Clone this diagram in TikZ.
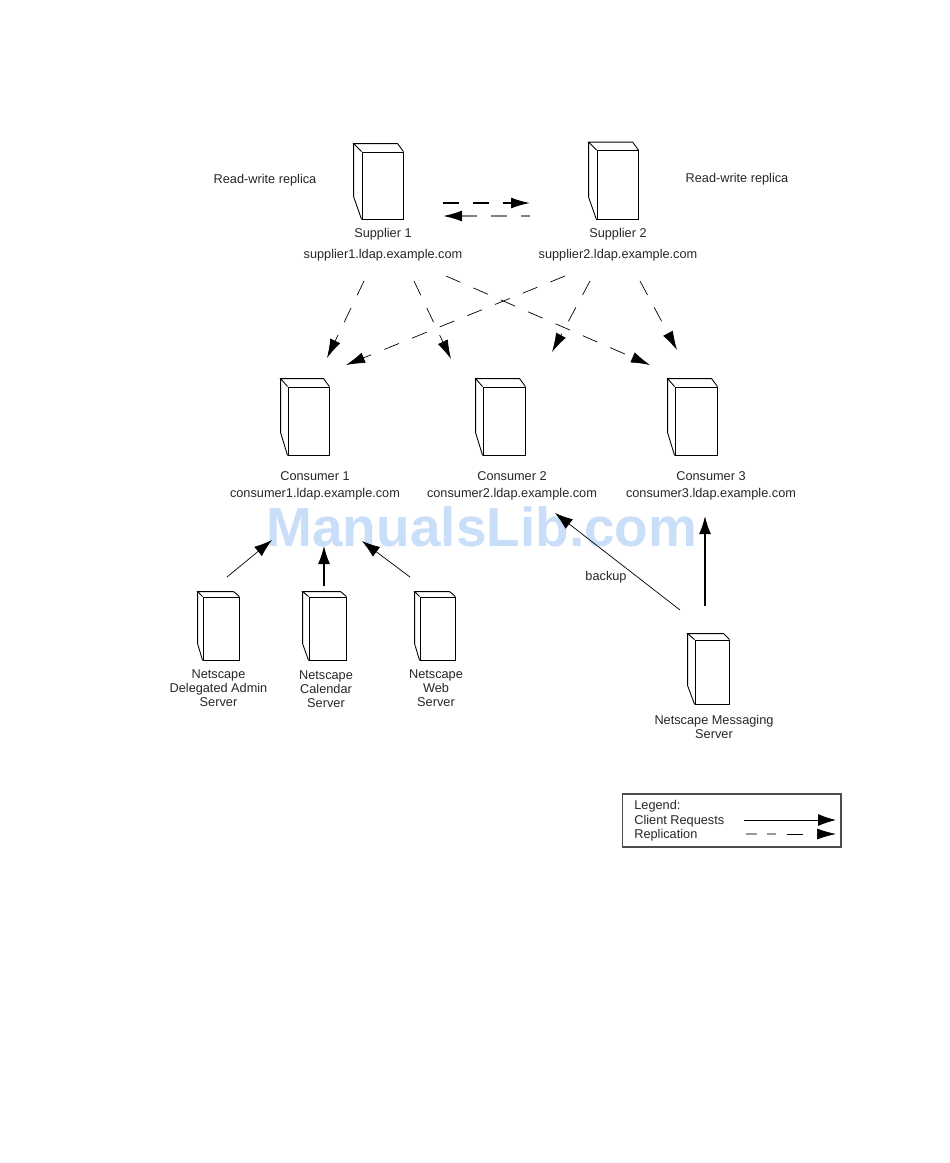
\documentclass[tikz,border=0pt]{standalone}
\usepackage{fontspec}
\setmainfont{Liberation Sans}
\usetikzlibrary{arrows.meta}

\definecolor{markblue}{HTML}{C9DEF9}

\tikzset{
	serverbox/.style={draw, rectangle, inner sep=0pt, line width=0.5pt},
	lbl/.style={inner sep=0pt, align=center, font=\fontsize{7.25}{8}\selectfont, text=black!85},
	clientarrow/.style={-{Latex[length=0.36cm,width=0.24cm]}, line width=0.5pt},
	replarrow/.style={-{Latex[length=0.38cm,width=0.22cm]}, line width=0.4pt, dash pattern=on 9pt off 8pt}
}

\begin{document}
\begin{tikzpicture}[x=0.02cm, y=-0.02cm]
	\useasboundingbox (0,0) rectangle (950,1163);

	\node[text=markblue, font=\fontsize{31.3}{36}\selectfont\bfseries, inner sep=0pt] (watermark) at (482,527) {ManualsLib.com};

	% servers: name/centre x/centre y/width/height/depth x/depth y
	\foreach \nm/\cx/\cy/\w/\h/\dx/\dy in {
		supplierA/382.5/185.5/41/67/8/8, supplierB/617.5/185/41/69/8/8,
		consumerA/308.5/421/41/68/7/8, consumerB/504/421/42/68/7/8, consumerC/696/421/42/68/7/8,
		delegated/221/628.5/36/63/5/5, calendar/327.5/628.5/37/63/6/5, web/437.5/628.5/35/63/5/5,
		messaging/712/672/34/64/7/6}{
		\node[serverbox, minimum width=\w*0.02cm, minimum height=\h*0.02cm] (\nm) at (\cx,\cy) {};
		\draw[line width=0.5pt] (\nm.north west) -- ++(-\dx,-\dy) -- ++(\w+\dx-5,0) -- (\nm.north east);
		\draw[line width=0.5pt] (\nm.north west) ++(-\dx,-\dy) -- ++(0,\h-\dy-6) -- (\nm.south west);
	}

	\node[lbl] (rwA) at (265,180) {Read-write replica};
	\node[lbl] (rwB) at (737,179) {Read-write replica};
	\node[lbl] (labelSA) at (383,234.5) {Supplier 1};
	\node[lbl] (hostSA) at (383,255.5) {supplier1.ldap.example.com};
	\node[lbl] (labelSB) at (618,234.5) {Supplier 2};
	\node[lbl] (hostSB) at (618,255.5) {supplier2.ldap.example.com};
	\node[lbl] (labelCA) at (315,476.5) {Consumer 1};
	\node[lbl] (hostCA) at (315,494.5) {consumer1.ldap.example.com};
	\node[lbl] (labelCB) at (512,476.5) {Consumer 2};
	\node[lbl] (hostCB) at (512,494.5) {consumer2.ldap.example.com};
	\node[lbl] (labelCC) at (711,476.5) {Consumer 3};
	\node[lbl] (hostCC) at (711,494.5) {consumer3.ldap.example.com};
	\node[lbl] (labelD) at (218.5,688) {Netscape\\Delegated Admin\\Server};
	\node[lbl] (labelCal) at (326,689) {Netscape\\Calendar\\Server};
	\node[lbl] (labelW) at (436,688) {Netscape\\Web\\Server};
	\node[lbl] (labelM) at (714,727) {Netscape Messaging\\Server};
	\node[lbl] (backup) at (606,577) {backup};

	% replication
	\foreach \nm/\xa/\ya/\xb/\yb in {
		ra/364/281/327/358, rb/414/281/451/359, rc/446/276/650/365,
		rd/565/276/346/365, re/590/281/552/352, rf/640/281/677/350}{
		\coordinate (\nm a) at (\xa,\ya);
		\coordinate (\nm b) at (\xb,\yb);
		\draw[replarrow] (\nm a) -- (\nm b);
	}
	\coordinate (toB) at (443,203);
	\coordinate (toBend) at (530,203);
	\coordinate (toA) at (530,216);
	\coordinate (toAend) at (443,216);
	\draw[replarrow, line width=0.9pt] (toB) -- (toBend);
	\draw[replarrow, line width=0.9pt, draw=black!50, {Latex[length=0.38cm,width=0.22cm,black]}-] (toAend) -- (toA);

	% client requests
	\foreach \nm/\xa/\ya/\xb/\yb/\lw in {
		ca/227/577/272/540/0.4, cb/324/586/324/546/0.7, cc/410/577/362/541/0.4,
		cd/680/610/555/513/0.4, ce/705/606/705/516/0.9}{
		\coordinate (\nm a) at (\xa,\ya);
		\coordinate (\nm b) at (\xb,\yb);
		\draw[clientarrow, line width=\lw pt] (\nm a) -- (\nm b);
	}

	% legend
	\node[draw=black!70, line width=0.6pt, minimum width=218.5*0.02cm, minimum height=53*0.02cm, inner sep=0pt] (legend) at (731.75,820.5) {};
	\node[lbl, anchor=west] (legA) at (634,806) {Legend:};
	\node[lbl, anchor=west] (legB) at (634,821) {Client Requests};
	\node[lbl, anchor=west] (legC) at (634,835) {Replication};
	\coordinate (legBa) at (744,820);
	\coordinate (legBb) at (836,820);
	\coordinate (legCa) at (746,834);
	\coordinate (legCm) at (776,834);
	\coordinate (legCn) at (787,834);
	\coordinate (legCb) at (836,834);
	\draw[line width=0.9pt, draw=black!40, dash pattern=on 6pt off 6pt] (legCa) -- (legCm);
	\draw[clientarrow] (legBa) -- (legBb);
	\draw[replarrow] (legCn) -- (legCb);
\end{tikzpicture}
\end{document}
